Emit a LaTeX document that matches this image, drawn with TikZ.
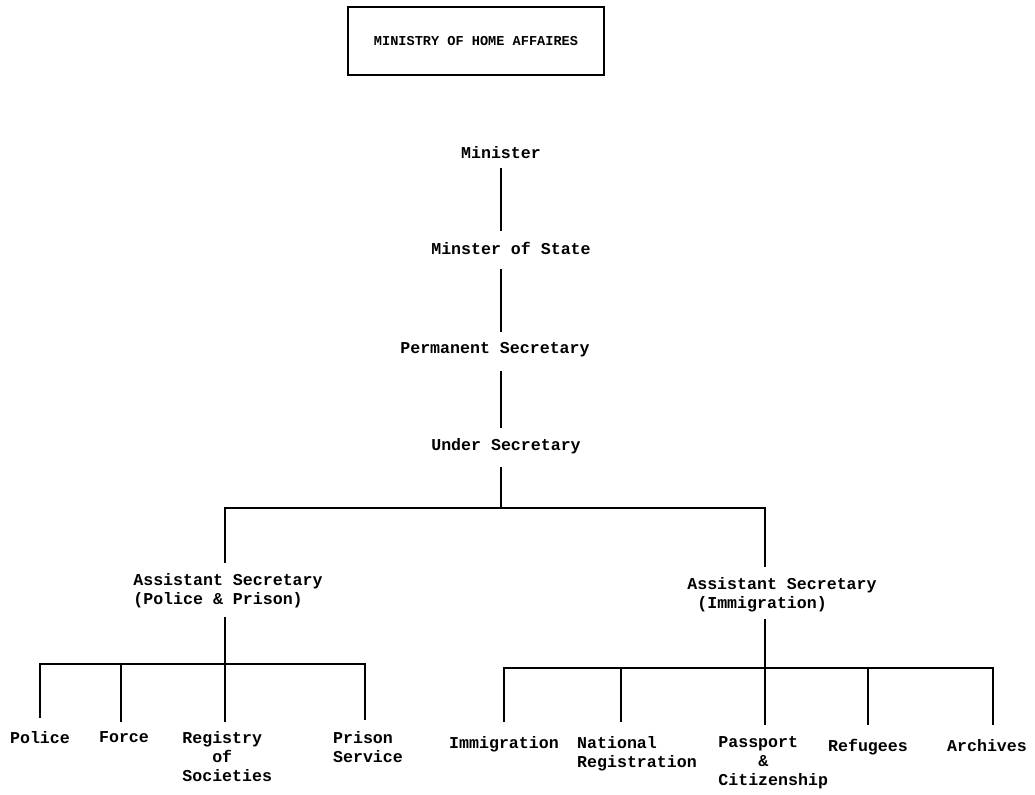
\documentclass[tikz,border=0pt]{standalone}
\usepackage{fontspec}
\setmonofont{Liberation Mono}
\usetikzlibrary{positioning}
\tikzset{>=latex}
\tikzset{post/.style={font=\ttfamily\bfseries\fontsize{8.3}{9.6}\selectfont, inner sep=1pt, align=center},
  unit/.style={post, anchor=north},
  link/.style={line width=1pt, shorten <=2pt, shorten >=4pt}}

\begin{document}
\begin{tikzpicture}[x=0.5pt, y=-0.5pt]
  \useasboundingbox (0,0) rectangle (1035,795);
  \node [draw, line width=0.8pt, minimum width=128pt, minimum height=34pt,
         font=\ttfamily\bfseries\fontsize{6.8}{8}\selectfont] (Ministry) at (476,41) {MINISTRY OF HOME AFFAIRES};

  \node [post] (Minister) at (501,153) {Minister};
  \node [post] (MinState) at (511,248) {Minster of State};
  \node [post] (PermSec) at (495,350) {Permanent Secretary};
  \node [post] (UnderSec) at (506,446) {Under Secretary};
  \node [post, align=left] (AsstPol) at (228,591) {Assistant Secretary\\(Police \& Prison)};
  \node [post, align=left] (AsstImm) at (782,595) {Assistant Secretary\\\hphantom{(}(Immigration)};

  \coordinate (Spine) at (501,0);
  \coordinate (TopBus) at (501,508);
  \coordinate (PolBus) at (225,664);
  \coordinate (ImmBus) at (765,668);

  \node [unit] (Police) at (40,729) {Police};
  \node [unit] (Force) at (124,729) {Force};
  \node [unit, anchor=north west, align=left] (Registry) at (180,729) {Registry\\\hphantom{Reg}of\\Societies};
  \node [unit, align=left] (Prison) at (368,729) {Prison\\Service};
  \node [unit] (Immig) at (504,734) {Immigration};
  \node [unit, align=left] (NatReg) at (637,734) {National\\Registration};
  \node [unit, anchor=north west, align=left] (Passport) at (716,734) {Passport\\\hphantom{Pass}\&\\Citizenship};
  \node [unit] (Refugees) at (868,737) {Refugees};
  \node [unit] (Archives) at (987,737) {Archives};

  \foreach \a/\b/\s in {Minister/MinState/3.5pt, MinState/PermSec/6pt, PermSec/UnderSec/5.5pt}
    \draw [link, shorten <=\s] (\a.south -| Spine) -- (\b.north -| Spine);
  \draw [link, shorten <=5.5pt, shorten >=0pt] (UnderSec.south -| Spine) -- (TopBus);
  \draw [link, shorten <=4pt] (AsstPol.north -| PolBus) |- (TopBus) -| (AsstImm.north -| ImmBus);

  \draw [link, shorten <=3pt, shorten >=3.5pt] (AsstPol.south -| PolBus) -- (Registry.north -| PolBus);
  \draw [link, shorten <=5.5pt, shorten >=4.5pt] (Police.north) -- (Police.north |- PolBus)
    -- ([xshift=-1.5pt]Prison.north |- PolBus) -- ([xshift=-1.5pt]Prison.north);
  \draw [link, shorten <=0pt, shorten >=3.5pt] ([xshift=-1.5pt]Force.north |- PolBus) -- ([xshift=-1.5pt]Force.north);

  \draw [link, shorten >=4.5pt] (AsstImm.south -| ImmBus) -- (Passport.north -| ImmBus);
  \draw [link, shorten <=6pt, shorten >=6pt] (Immig.north) -- (Immig.north |- ImmBus)
    -- ([xshift=3pt]Archives.north |- ImmBus) -- ([xshift=3pt]Archives.north);
  \draw [link, shorten <=0pt, shorten >=6pt] ([xshift=-8pt]NatReg.north |- ImmBus) -- ([xshift=-8pt]NatReg.north);
  \draw [link, shorten <=0pt, shorten >=6pt] (Refugees.north |- ImmBus) -- (Refugees.north);
\end{tikzpicture}
\end{document}
